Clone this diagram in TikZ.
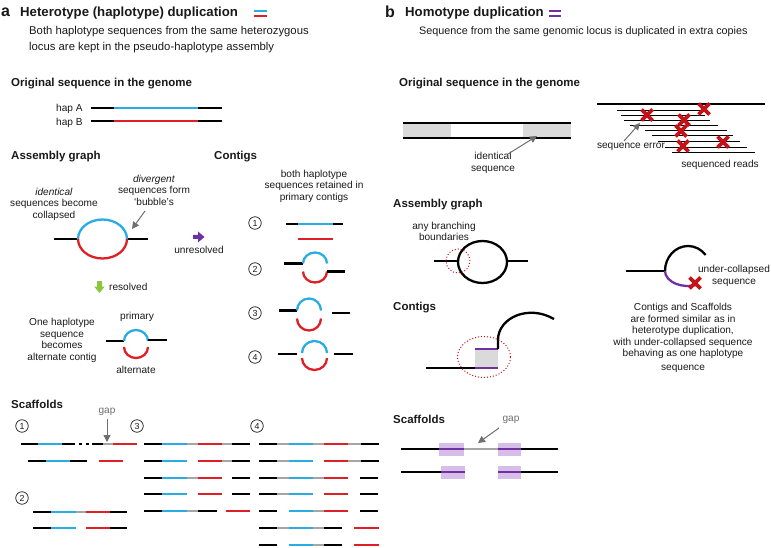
\documentclass[tikz,border=0pt]{standalone}
\usepackage{fontspec}
\setmainfont{Liberation Sans}
\usetikzlibrary{arrows.meta}
\definecolor{hblue}{RGB}{40,172,226}
\definecolor{hred}{RGB}{222,32,38}
\definecolor{hpurp}{RGB}{112,48,160}
\definecolor{lpurp}{RGB}{214,190,232}
\definecolor{hgreen}{RGB}{140,198,63}
\definecolor{hgray}{RGB}{165,165,165}
\definecolor{lgray}{RGB}{218,218,218}
\definecolor{dred}{RGB}{196,18,24}
\definecolor{txt}{RGB}{25,25,25}
\definecolor{gtxt}{RGB}{110,110,110}
\newcommand{\segm}[4]{\draw[#1] (#2,#4) -- (#3,#4);}
\begin{document}
\begin{tikzpicture}[x=1pt,y=-1pt,
  ttl/.style={font=\bfseries\fontsize{13.2}{15}\selectfont,anchor=west,inner sep=0,text=txt},
  hdr/.style={font=\bfseries\fontsize{11.5}{13}\selectfont,anchor=west,inner sep=0,text=txt},
  bodytxt/.style={font=\fontsize{10.8}{13}\selectfont,anchor=west,inner sep=0,text=txt},
  lbl/.style={font=\fontsize{10.1}{11.6}\selectfont,inner sep=0,text=txt,align=center},
  glbl/.style={font=\fontsize{10.1}{11.6}\selectfont,inner sep=0,text=gtxt},
  cnum/.style={circle,draw=txt,line width=0.7pt,inner sep=0,minimum size=12.5pt,font=\fontsize{8.8}{9}\selectfont,text=txt},
  thk/.style={line width=2pt},
  bub/.style={line width=2.3pt},
  sk/.style={line width=2pt},
  rd/.style={line width=0.9pt},
  garrow/.style={draw=gtxt,line width=1pt,-{Triangle[length=7pt,width=7pt]}},
  dcirc/.style={draw=dred,dotted,line width=1pt},
  xcross/.pic={\draw[dred,line width=3.6pt] (-5.5,-5.5)--(5.5,5.5) (-5.5,5.5)--(5.5,-5.5);}
]
\useasboundingbox (0,0) rectangle (771,548);

% ===== panel a header =====
\node[font=\bfseries\fontsize{16}{18}\selectfont,anchor=west,inner sep=0,text=txt] (la) at (1,12) {a};
\node[ttl] (tta) at (20,13) {Heterotype (haplotype) duplication};
\draw[hblue,line width=2.5pt] (254,11) -- (267,11);
\draw[hred,line width=2.5pt] (254,16) -- (267,16);
\node[bodytxt,font=\fontsize{11.3}{13}\selectfont] (ba1) at (29,32) {Both haplotype sequences from the same heterozygous};
\node[bodytxt,font=\fontsize{11.3}{13}\selectfont] (ba2) at (29,48) {locus are kept in the pseudo-haplotype assembly};

% ===== panel b header =====
\node[font=\bfseries\fontsize{16}{18}\selectfont,anchor=west,inner sep=0,text=txt] (lb) at (385,12) {b};
\node[ttl] (ttb) at (405,13) {Homotype duplication};
\draw[hpurp,line width=2.5pt] (549,11) -- (561,11);
\draw[hpurp,line width=2.5pt] (549,16) -- (561,16);
\node[bodytxt] (bb1) at (419,32) {Sequence from the same genomic locus is duplicated in extra copies};

% ===== a: original sequence =====
\node[hdr] (hoa) at (11,84) {Original sequence in the genome};
\node[lbl,anchor=west] (hapa) at (56,109) {hap A};
\node[lbl,anchor=west] (hapb) at (56,123) {hap B};
\segm{thk,black}{91}{114}{108}
\segm{thk,hblue}{114}{198}{108}
\segm{thk,black}{198}{222}{108}
\segm{thk,black}{91}{114}{121}
\segm{thk,hred}{114}{198}{121}
\segm{thk,black}{198}{222}{121}

% ===== a: assembly graph =====
\node[hdr] (hag) at (11,157) {Assembly graph};
\node[lbl] (ident) at (54,204) {\textit{identical}\\sequences become\\collapsed};
\node[lbl] (diverg) at (154,190) {\textit{divergent}\\sequences form\\‘bubble’s};
\draw[bub,black] (54,239) -- (78,239);
\draw[bub,black] (127,239) -- (148,239);
\draw[bub,hblue] (78,239) arc[start angle=180,end angle=0,x radius=24.5pt,y radius=19.5pt];
\draw[bub,hred] (78,239) arc[start angle=180,end angle=360,x radius=24.5pt,y radius=19.5pt];
\coordinate (bubr) at (132,229);
\coordinate (divs) at (145,211);
\draw[garrow] (divs) -- (bubr);
% green arrow
\fill[hgreen] (97,281) -- (102,281) -- (102,286.5) -- (104.8,286.5) -- (99.5,293) -- (94.2,286.5) -- (97,286.5) -- cycle;
\node[lbl,anchor=west] (resolved) at (109,287) {resolved};
% purple arrow
\fill[hpurp] (193,235) -- (198,235) -- (198,231.5) -- (204.5,237) -- (198,242.5) -- (198,239) -- (193,239) -- cycle;
\node[lbl] (unres) at (199,250) {unresolved};
% resolved result
\node[lbl] (onehap) at (62,340.5) {One haplotype\\sequence\\becomes\\alternate contig};
\node[lbl] (prim) at (137,317) {primary};
\node[lbl] (alt) at (136,370) {alternate};
\draw[bub,black] (106,341) -- (124,341);
\draw[bub,hblue] (124,341) arc[start angle=180,end angle=0,x radius=12pt,y radius=11pt];
\draw[bub,black] (148,340) -- (167,340);
\draw[bub,hred] (124,347) arc[start angle=180,end angle=360,x radius=12pt,y radius=11pt];

% ===== a: contigs =====
\node[hdr] (hca) at (214,157) {Contigs};
\node[lbl] (both) at (314,186) {both haplotype\\sequences retained in\\primary contigs};
\node[cnum] (c1) at (255,223) {1};
\node[cnum] (c2) at (255,269) {2};
\node[cnum] (c3) at (255,313) {3};
\node[cnum] (c4) at (255,357) {4};
% 1
\segm{bub,black}{286}{298}{224}
\segm{bub,hblue}{298}{333}{224}
\segm{bub,black}{333}{343}{224}
\segm{bub,hred}{298}{333}{239}
% 2
\draw[bub,black] (284,263.5) -- (303,263.5);
\draw[bub,hblue] (303,263.5) arc[start angle=180,end angle=0,x radius=12pt,y radius=11pt];
\draw[bub,hred] (303,271.5) arc[start angle=180,end angle=360,x radius=12pt,y radius=11pt];
\draw[bub,black] (327,271.5) -- (345,271.5);
% 3
\draw[bub,black] (279,310.5) -- (297,310.5);
\draw[bub,hblue] (297,310.5) arc[start angle=180,end angle=0,x radius=12pt,y radius=12pt];
\draw[bub,hred] (297,318.5) arc[start angle=180,end angle=360,x radius=12pt,y radius=12pt];
\draw[bub,black] (332,313) -- (350,313);
% 4
\draw[bub,black] (278,354) -- (297,354);
\draw[bub,hblue] (302,353) arc[start angle=180,end angle=0,x radius=12.5pt,y radius=12pt];
\draw[bub,hred] (302,358) arc[start angle=180,end angle=360,x radius=12.5pt,y radius=12pt];
\draw[bub,black] (334,354) -- (353,354);

% ===== a: scaffolds =====
\node[hdr] (hsa) at (11,404) {Scaffolds};
\node[glbl] (gapa) at (107,412) {gap};
\coordinate (gapat) at (107,418.5);
\coordinate (gapah) at (107,442);
\draw[garrow] (gapat) -- (gapah);
\node[cnum] (s1) at (22,426) {1};
\node[cnum] (s3) at (137,426) {3};
\node[cnum] (s4) at (257,426) {4};
\node[cnum] (s2) at (22,498) {2};
% scaffold 1
\segm{sk,black}{21}{38}{444}
\segm{sk,hblue}{38}{62}{444}
\segm{sk,black}{62}{75}{444}
\segm{sk,black}{79}{81.5}{444}
\segm{sk,black}{86}{88.5}{444}
\segm{sk,black}{92}{103}{444}
\segm{sk,hgray}{103}{113}{444}
\segm{sk,hred}{113}{137}{444}
\segm{sk,black}{28}{46}{461}
\segm{sk,hblue}{46}{70}{461}
\segm{sk,black}{70}{87}{461}
\segm{sk,hred}{99}{123}{461}
% scaffold 2
\segm{sk,black}{33}{51}{512}
\segm{sk,hblue}{51}{76}{512}
\segm{sk,hgray}{76}{86}{512}
\segm{sk,hred}{86}{110}{512}
\segm{sk,black}{110}{127}{512}
\segm{sk,black}{33}{51}{528}
\segm{sk,hblue}{51}{76}{528}
\segm{sk,hred}{86}{110}{528}
\segm{sk,black}{110}{127}{528}
% scaffold 3
\segm{sk,black}{144}{162}{444}
\segm{sk,hblue}{162}{187}{444}
\segm{sk,hgray}{187}{198}{444}
\segm{sk,hred}{198}{222}{444}
\segm{sk,hgray}{222}{232}{444}
\segm{sk,black}{232}{250}{444}
\segm{sk,black}{144}{162}{461}
\segm{sk,hblue}{162}{187}{461}
\segm{sk,hred}{198}{222}{461}
\segm{sk,hgray}{222}{232}{461}
\segm{sk,black}{232}{250}{461}
\segm{sk,black}{144}{162}{478}
\segm{sk,hblue}{162}{187}{478}
\segm{sk,hgray}{187}{198}{478}
\segm{sk,hred}{198}{222}{478}
\segm{sk,black}{232}{250}{478}
\segm{sk,black}{144}{162}{494}
\segm{sk,hblue}{162}{187}{494}
\segm{sk,hred}{198}{222}{494}
\segm{sk,black}{232}{250}{494}
\segm{sk,black}{144}{162}{511}
\segm{sk,hblue}{162}{187}{511}
\segm{sk,hgray}{187}{198}{511}
\segm{sk,black}{198}{217}{511}
\segm{sk,hred}{226}{250}{511}
% scaffold 4
\segm{sk,black}{259}{277}{444}
\segm{sk,hgray}{277}{289}{444}
\segm{sk,hblue}{289}{313}{444}
\segm{sk,hgray}{313}{324}{444}
\segm{sk,hred}{324}{348}{444}
\segm{sk,hgray}{348}{361}{444}
\segm{sk,black}{361}{379}{444}
\segm{sk,black}{259}{277}{461}
\segm{sk,hgray}{277}{289}{461}
\segm{sk,hblue}{289}{313}{461}
\segm{sk,hred}{324}{348}{461}
\segm{sk,hgray}{348}{361}{461}
\segm{sk,black}{361}{379}{461}
\segm{sk,black}{259}{277}{478}
\segm{sk,hgray}{277}{289}{478}
\segm{sk,hblue}{289}{313}{478}
\segm{sk,hgray}{313}{324}{478}
\segm{sk,hred}{324}{348}{478}
\segm{sk,black}{360}{378}{478}
\segm{sk,black}{259}{277}{494}
\segm{sk,hgray}{277}{289}{494}
\segm{sk,hblue}{289}{313}{494}
\segm{sk,hred}{324}{348}{494}
\segm{sk,black}{360}{378}{494}
\segm{sk,black}{259}{277}{511}
\segm{sk,hblue}{289}{313}{511}
\segm{sk,hgray}{313}{324}{511}
\segm{sk,hred}{324}{348}{511}
\segm{sk,black}{360}{378}{511}
\segm{sk,black}{259}{277}{528}
\segm{sk,hgray}{277}{289}{528}
\segm{sk,hblue}{289}{313}{528}
\segm{sk,hgray}{313}{324}{528}
\segm{sk,black}{324}{342}{528}
\segm{sk,hred}{354}{379}{528}
\segm{sk,black}{259}{277}{545}
\segm{sk,hblue}{289}{313}{545}
\segm{sk,hgray}{313}{324}{545}
\segm{sk,black}{324}{342}{545}
\segm{sk,hred}{354}{379}{545}

% ===== b: original sequence =====
\node[hdr] (hob) at (399,84) {Original sequence in the genome};
\fill[lgray] (403,123) rectangle (451,138);
\fill[lgray] (523,123) rectangle (571,138);
\segm{thk,black}{403}{571}{123}
\segm{thk,black}{403}{571}{138}
\node[lbl] (identb) at (493,163) {identical\\sequence};
\coordinate (idt) at (508,154);
\coordinate (idh) at (537,136);
\draw[garrow] (idt) -- (idh);
% reads
\segm{thk,black}{597}{765}{104}
\segm{rd,black}{617}{700}{110}
\segm{rd,black}{621}{705}{115}
\segm{rd,black}{624}{710}{120}
\segm{rd,black}{630}{718}{125}
\segm{rd,black}{645}{727}{130}
\segm{rd,black}{652}{733}{135}
\segm{rd,black}{658}{740}{141}
\segm{rd,black}{665}{747}{147}
\segm{rd,black}{672}{755}{152}
\pic at (647,115) {xcross};
\pic at (684,120) {xcross};
\pic at (704,109) {xcross};
\pic at (681,131) {xcross};
\pic at (683,146) {xcross};
\pic at (723,142) {xcross};
\node[lbl] (serr) at (631,147) {sequence error};
\coordinate (set) at (624,141);
\coordinate (seh) at (640,123);
\draw[garrow] (set) -- (seh);
\node[lbl] (sreads) at (720,165) {sequenced reads};

% ===== b: assembly graph =====
\node[hdr] (hagb) at (393,205) {Assembly graph};
\node[lbl] (anyb) at (444,231.5) {any branching\\boundaries};
\draw[bub,black] (482.5,262) ellipse[x radius=24.5pt,y radius=21pt];
\draw[bub,black] (434,261) -- (458,261);
\draw[bub,black] (507,261) -- (528,261);
\draw[dcirc] (458,261) circle[radius=12pt];
\draw[bub,black] (626,271) -- (665,271);
\draw[bub,black] (665,271) arc[start angle=180,end angle=40,x radius=23pt,y radius=25pt];
\draw[bub,hpurp] (665,271) arc[start angle=180,end angle=290,x radius=23pt,y radius=15pt];
\pic at (695,283) {xcross};
\node[lbl] (ucs) at (734,276) {under-collapsed\\sequence};

% ===== b: contigs =====
\node[hdr] (hcb) at (393,308) {Contigs};
\fill[lgray] (475,349) rectangle (498,368);
\draw[bub,black] (426,368) -- (475,368);
\draw[thk,hpurp] (475,349) -- (498,349);
\draw[thk,hpurp] (475,368) -- (498,368);
\draw[bub,black] (498,349) -- (498,340) .. controls (498,318) and (528,304) .. (554,319);
\draw[dcirc] (484,357) ellipse[x radius=26.5pt,y radius=20.5pt];
\node[lbl] (ctxt) at (683,331) {Contigs and Scaffolds\\are formed similar as in\\heterotype duplication,\\with under-collapsed sequence\\behaving as one haplotype};
\node[lbl] (ctxt2) at (683,369) {sequence};

% ===== b: scaffolds =====
\node[hdr] (hsb) at (393,419) {Scaffolds};
\node[glbl] (gapb) at (511,420) {gap};
\coordinate (gbt) at (499,428);
\coordinate (gbh) at (478,443);
\draw[garrow] (gbt) -- (gbh);
\fill[lpurp] (439,443) rectangle (464,456);
\fill[lpurp] (498,443) rectangle (521,456);
\fill[lpurp] (441,466) rectangle (465,479);
\fill[lpurp] (498,466) rectangle (521,479);
\segm{thk,black}{401}{439}{449}
\segm{thk,hpurp}{439}{464}{449}
\segm{thk,hgray}{464}{498}{449}
\segm{thk,hpurp}{498}{521}{449}
\segm{thk,black}{521}{558}{449}
\segm{thk,black}{401}{441}{472}
\segm{thk,hpurp}{441}{465}{472}
\segm{thk,hpurp}{498}{521}{472}
\segm{thk,black}{521}{558}{472}
\end{tikzpicture}
\end{document}
